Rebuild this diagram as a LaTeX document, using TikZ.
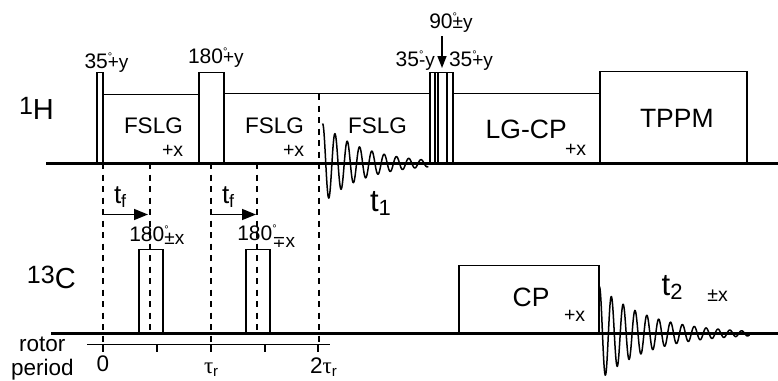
\documentclass[tikz,border=0pt]{standalone}
\usepackage{fontspec}
\setmainfont{Liberation Sans}
\newfontfamily\symfont{DejaVu Sans}
\newfontfamily\greekfont{Liberation Serif}
\usetikzlibrary{arrows.meta}
\newcommand{\fsize}[1]{\fontsize{#1}{#1}\selectfont}
% angle with its degree sign, then the phase set a little lower
\newcommand{\ang}[3][0pt]{{\fsize{21}#2}\rlap{\raisebox{8pt}{\fsize{11}°}}\raisebox{-#1}{\fsize{19}#3}}
\newcommand{\nuc}[2]{\raisebox{5pt}{\fsize{25}#1}{\fsize{29}#2}}
\newcommand{\tsub}[3]{{\fsize{#1}t}\raisebox{-4pt}{\fsize{#2}#3}}
\newcommand{\taur}{{\greekfont\fsize{23}τ}\raisebox{-3pt}{\fsize{15}r}}
\begin{document}
\begin{tikzpicture}[x=1pt,y=-1pt,
    lab/.style={anchor=base west,inner sep=0pt,outer sep=0pt},
    big/.style={lab,font=\fsize{26.5}},
    mid/.style={lab,font=\fsize{22.5}},
    phase/.style={lab,font=\fsize{19.5}},
    pulse/.style={line width=1.6pt},
    axisline/.style={line width=2.2pt},
    guide/.style={line width=1.6pt,dash pattern=on 6pt off 5.5pt},
    fid/.style={line width=1.5pt,line join=round},
    delay/.style={line width=1.5pt,-{Triangle[length=14pt,width=11pt]}}]
    \useasboundingbox (0,0) rectangle (778,380);
    % dashed timing lines
    \foreach \x/\top/\bot in {103/163/343,150/163/333,211/163/343,257/163/333,319/94/343}
        \draw[guide] (\x,\top) -- (\x,\bot);
    % 1H channel
    \foreach \a/\b/\c in {97/103/72.5,199/224/72.5,430/453/72.5,600/747/71.5}
        \draw[pulse] (\a,163.5) rectangle (\b,\c);
    \draw[pulse] (103,163.5) -- (103,94.5) -- (199,94.5);
    \draw[pulse] (224,93.5) -- (430,93.5);
    \draw[pulse] (453,93.5) -- (600,93.5);
    \foreach \x in {435,438,447}
        \draw[pulse] (\x,72.5) -- (\x,163.5);
    \draw[axisline] (46,163.5) -- (778,163.5);
    % 13C channel
    \foreach \a/\b/\c in {139/163/249.5,246/270/249.5,459/599/265.5}
        \draw[pulse] (\a,333.5) rectangle (\b,\c);
    \draw[axisline] (51,333.5) -- (778,333.5);
    % rotor period scale
    \draw[pulse] (87,344.5) -- (330,344.5);
    \foreach \x in {103,157,211,265,318}
        \draw[pulse] (\x,344.5) -- (\x,352);
    % FIDs
    \draw[fid] plot[domain=0:105.5,samples=260,smooth] ({322.7+\x},{163.5-40*exp(-\x/42)*cos(29.27*\x)});
    \draw[fid] plot[domain=0:150,samples=340,smooth] ({599.5+\x},{333.5-47*exp(-\x/50)*cos(30.38*\x)});
    % arrows
    \draw[delay] (103,214.5) -- (148,214.5);
    \draw[delay] (211,214.5) -- (256,214.5);
    \draw[delay,-{Triangle[length=12pt,width=9pt]}] (442,36) -- (442,68);
    % labels
    \node[lab] (protonlab) at (19,119) {\nuc{1}{H}};
    \node[lab] (carbonlab) at (27,288) {\nuc{13}{C}};
    \node[lab] (anglea) at (84.5,68) {\ang{35}{+y}};
    \node[lab] (angleb) at (188,63) {\ang{180}{+y}};
    \node[lab] (anglec) at (429.3,28) {\ang{90}{±y}};
    \node[lab] (angled) at (395.7,66) {\ang{35}{-y}};
    \node[lab] (anglee) at (449,66) {\ang{35}{+y}};
    \node[lab] (anglef) at (129.3,241) {\ang[3pt]{180}{±x}};
    \node[lab] (angleg) at (237.3,240) {\ang[7pt]{180}{{\symfont\fsize{16}∓}x}};
    \foreach \x/\name in {124/fslga,245/fslgb,348/fslgc}
        \node[mid] (\name) at (\x,133) {FSLG};
    \foreach \x/\y/\name in {162/156/phasea,283/156/phaseb,565/155/phasec,564/321/phased}
        \node[phase] (\name) at (\x,\y) {+x};
    \node[phase] (phasee) at (707.3,301.7) {±x};
    \node[big] (lgcp) at (485.7,138) {LG-CP};
    \node[big] (tppm) at (640,127.6) {TPPM};
    \node[big] (cp) at (512.7,306.7) {CP};
    \node[lab] (tfa) at (114,203) {\tsub{26}{18}{f}};
    \node[lab] (tfb) at (222,203) {\tsub{26}{18}{f}};
    \node[lab] (tone) at (370,211.7) {\tsub{31}{22}{1}};
    \node[lab] (ttwo) at (661.7,295) {\tsub{31}{22}{2}};
    \node[mid,anchor=base] (rotor) at (42.3,351.7) {rotor};
    \node[mid,anchor=base] (period) at (42.3,375) {period};
    \node[mid,anchor=base] (tickzero) at (103,371.7) {0};
    \node[lab] (tickone) at (204,373) {\taur};
    \node[lab] (ticktwo) at (310,373) {{\fsize{22.5}2}\taur};
\end{tikzpicture}
\end{document}
